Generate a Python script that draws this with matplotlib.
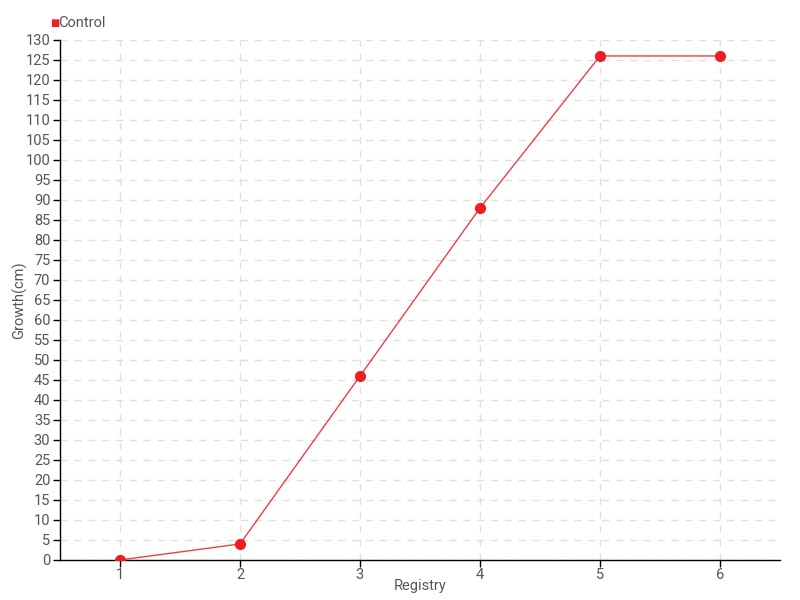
import matplotlib
matplotlib.use("Agg")
import matplotlib.pyplot as plt
import numpy as np

registry = [1, 2, 3, 4, 5, 6]
control = [0, 4, 46, 88, 126, 126]
y_ticks = list(range(0, 131, 5))

plt.rcParams["font.family"] = ["Roboto", "DejaVu Sans"]

red = "#ee1c25"
text_gray = "#555555"

fig = plt.figure(figsize=(8, 6), dpi=100)
ax = fig.add_axes([0.075, 0.0667, 0.9, 0.8667])

ax.plot(registry, control, color=red, lw=1, alpha=0.85, zorder=3)
ax.plot(registry, control, "o", color=red, ms=7, mec=red, zorder=4, label="Control")

ax.set_xlim(0.5, 6.5)
ax.set_ylim(0, 130)
ax.set_xticks(registry)
ax.set_yticks(y_ticks)
ax.grid(True, color="#e0e0e0", ls=(0, (5, 5)), lw=1)
ax.set_axisbelow(True)
for s in ("top", "right"):
    ax.spines[s].set_visible(False)
for s in ("left", "bottom"):
    ax.spines[s].set_color("black")
    ax.spines[s].set_linewidth(1)
ax.tick_params(axis="both", colors="black", labelcolor=text_gray, labelsize=10.5, length=5, width=1)
ax.tick_params(axis="y", pad=2)
ax.tick_params(axis="x", pad=1)

ax.set_xlabel("Registry", color=text_gray, fontsize=10.5)
ax.set_ylabel("Growth(cm)", color=text_gray, fontsize=10.5)
ax.xaxis.set_label_coords(0.5, -0.036)
ax.yaxis.set_label_coords(-0.045, 0.5)

fig.text(0.063, 0.962, "\u25a0", color=red, fontsize=7, va="center", ha="left", family="DejaVu Sans")
fig.text(0.073, 0.962, "Control", color=text_gray, fontsize=10.5, va="center", ha="left")

fig.savefig("out.png", dpi=100)
